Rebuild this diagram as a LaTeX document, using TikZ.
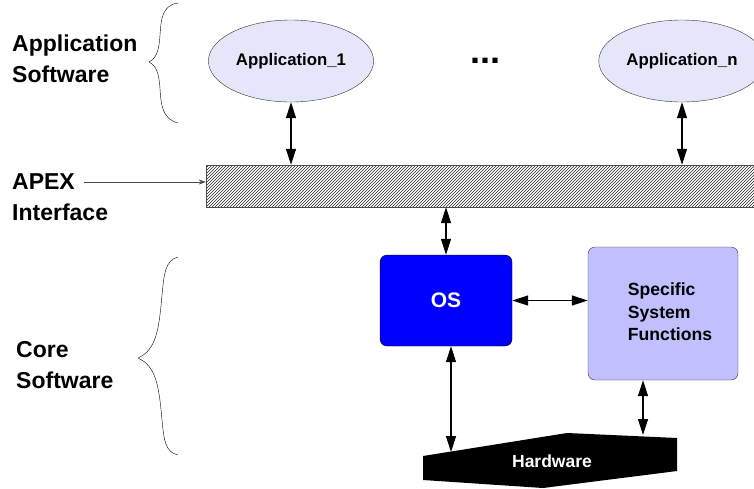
\documentclass[tikz,border=0pt]{standalone}
\usepackage{fontspec}
\setmainfont{Liberation Sans}
\usepackage{tikz}
\usetikzlibrary{arrows.meta,shapes,patterns,positioning}

\definecolor{appfill}{RGB}{230,230,250}
\definecolor{osblue}{RGB}{0,0,255}
\definecolor{ssffill}{RGB}{192,192,255}

\begin{document}
\begin{tikzpicture}[x=1pt,y=-1pt,>={Triangle[length=16pt,width=10pt]},
                    font=\bfseries]
  \tikzstyle{app}=[ellipse,draw=black!80,fill=appfill,thin,
                   minimum width=162pt,minimum height=82pt,
                   font=\bfseries\fontsize{16.8}{20}\selectfont]
  \tikzstyle{apexbar}=[rectangle,draw=black!70,thin,pattern=north east lines,
                       pattern color=black!85,minimum width=548pt,minimum height=42pt]
  \tikzstyle{osbox}=[rectangle,rounded corners=7pt,draw=black,fill=osblue,
                     text=white,minimum width=132pt,minimum height=91pt,
                     font=\bfseries\fontsize{21}{24}\selectfont]
  \tikzstyle{ssfbox}=[rectangle,rounded corners=7pt,draw=black!80,fill=ssffill,
                      minimum width=150pt,minimum height=133pt]
  \tikzstyle{layer}=[anchor=base west,align=left,inner sep=0pt,
                     font=\bfseries\fontsize{23}{31}\selectfont]
  \tikzstyle{link}=[<->,line width=1.2pt]

  \useasboundingbox (0,0) rectangle (754,488);

  % applications
  \node[app]  (app1) at (291,61)                          {Application\_1};
  \node       (dots) [right of=app1,node distance=194pt]
              {\fontsize{36}{36}\selectfont ...};
  \node[app]  (appn) [right of=app1,node distance=391pt]  {Application\_n};

  % interface and core
  \node[apexbar] (apex) at (480,186) {};
  \node[osbox]   (os)   at (446,300.5) {OS};
  \node[ssfbox]  (ssf)  at (663,313.5) {};
  \node[align=left,inner sep=0pt,font=\bfseries\fontsize{17.6}{22.5}\selectfont]
       (ssftext) at (670,312) {Specific\\System\\Functions};

  % hardware
  \coordinate (hwL) at (451,452);
  \coordinate (hwR) at (643,435);
  \fill[black] (423,456) -- (567,433) -- (677,438) -- (677,471)
               -- (543,488) -- (423,480) -- cycle;
  \node[text=white,font=\bfseries\fontsize{17.5}{20}\selectfont]
       (hw) at (552,461) {Hardware};

  % left labels
  \node[layer] (appsw)  at (12,82)  {Application\\Software};
  \node[layer] (apexlb) at (12,220) {APEX\\Interface};
  \node[layer] (coresw) at (16,388) {Core\\Software};
  \coordinate (apexin) at (84,182);

  % braces
  \draw[thin] (178,3) .. controls (162,5) and (161,20) .. (160,35)
              .. controls (159,52) and (156,58) .. (149,62)
              .. controls (156,66) and (159,72) .. (160,89)
              .. controls (161,104) and (162,119) .. (178,123);
  \draw[thin] (178,257) .. controls (165,260) and (164,275) .. (162,295)
              .. controls (159,330) and (156,350) .. (138,358)
              .. controls (156,366) and (159,386) .. (162,420)
              .. controls (164,440) and (165,452) .. (178,455);

  % connectors
  \draw[->,black!70,thin,>={Stealth[length=7pt,width=5pt]}]
       (apexin) -- (apexin -| apex.west);
  \draw[link] (app1.south) -- (app1.south |- apex.north);
  \draw[link] (appn.south) -- (appn.south |- apex.north);
  \draw[link] (os.north) -- (os.north |- apex.south);
  \draw[link] (os.east) -- (os.east -| ssf.west);
  \draw[link] (hwL |- os.south) -- (hwL);
  \draw[link] (hwR |- ssf.south) -- (hwR);
\end{tikzpicture}
\end{document}
